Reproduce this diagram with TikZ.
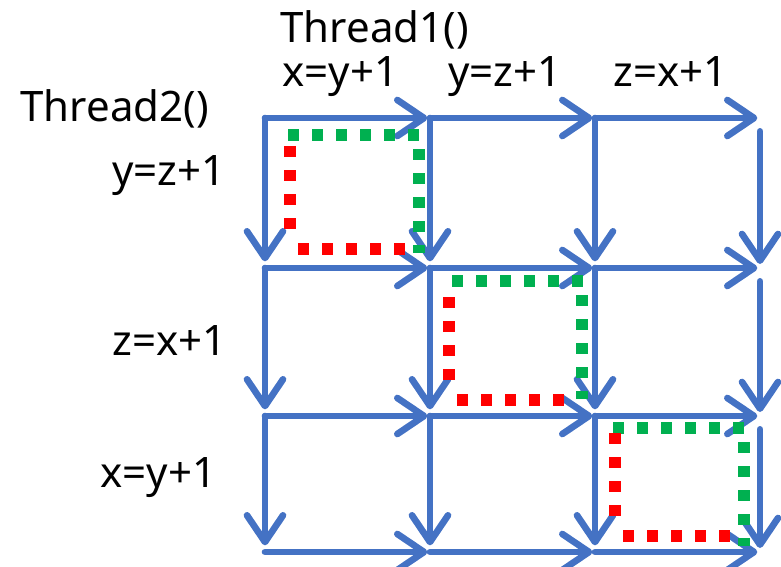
\documentclass[tikz,border=0pt]{standalone}
\usepackage{fontspec}
\setmainfont{Noto Sans}
\usetikzlibrary{arrows.meta}

\definecolor{gridblue}{RGB}{68,114,196}
\definecolor{dotgreen}{RGB}{0,176,80}
\definecolor{dotred}{RGB}{255,0,0}

\tikzset{every picture/.style={line width=0.75pt}}
\tikzset{
  stepline/.style={draw=gridblue,line width=5pt,line cap=round,
    -{Straight Barb[length=20pt,width=27pt,line cap=round,line join=round]}},
  greendots/.style={draw=dotgreen,line width=8.6pt,dash pattern=on 8.6pt off 9.4pt},
  reddots/.style={draw=dotred,line width=8.6pt,dash pattern=on 8.6pt off 9.4pt},
  label/.style={anchor=base west,inner sep=0pt,font=\fontsize{31.5}{38}\selectfont}
}

\begin{document}
\begin{tikzpicture}[x=0.75pt,y=0.75pt,yscale=-1,xscale=1]
\useasboundingbox (0,0) rectangle (781,567);

% Grid corners
\coordinate (g00) at (265,118); \coordinate (g10) at (430,118); \coordinate (g20) at (595,118); \coordinate (g30) at (760,118);
\coordinate (g01) at (265,268); \coordinate (g11) at (430,268); \coordinate (g21) at (595,268); \coordinate (g31) at (760,268);
\coordinate (g02) at (265,416); \coordinate (g12) at (430,416); \coordinate (g22) at (595,416); \coordinate (g32) at (760,416);
\coordinate (g03) at (265,552); \coordinate (g13) at (430,552); \coordinate (g23) at (595,552); \coordinate (g33) at (760,552);

% Thread1 steps (right)
\foreach \r in {0,1,2,3}{
  \draw[stepline,shorten >=2pt] (g0\r) -- (g1\r);
  \draw[stepline,shorten >=2pt] (g1\r) -- (g2\r);
  \draw[stepline,shorten >=2pt] (g2\r) -- (g3\r);
}
% Thread2 steps (down)
\foreach \r/\s in {0/1,1/2,2/3}{
  \draw[stepline,shorten >=5pt] (g0\r) -- (g0\s);
  \draw[stepline,shorten >=5pt] (g1\r) -- (g1\s);
  \draw[stepline,shorten >=5pt] (g2\r) -- (g2\s);
  \draw[stepline,shorten <=10pt,shorten >=3pt] (g3\r) -- (g3\s);
}

% Dotted squares on the diagonal
\draw[greendots] (288,135) -- (422,135);
\draw[greendots] (419,149) -- (419,253);
\draw[reddots] (290,146) -- (290,230);
\draw[reddots] (298,249) -- (406,249);

\draw[greendots] (452,281) -- (585,281);
\draw[greendots] (582,295) -- (582,399);
\draw[reddots] (449,297) -- (449,382);
\draw[reddots] (457,400) -- (565,400);

\draw[greendots] (613,428) -- (745,428);
\draw[greendots] (744,442) -- (744,546);
\draw[reddots] (615,433) -- (615,518);
\draw[reddots] (623,536) -- (731,536);

% Text Nodes
\node[label] (t1) at (280,43) {Thread1()};
\node[label] (t1a) at (282,86) {x=y+1};
\node[label] (t1b) at (448,86) {y=z+1};
\node[label] (t1c) at (613,86) {z=x+1};
\node[label] (t2) at (20,121) {Thread2()};
\node[label] (t2a) at (112,185) {y=z+1};
\node[label] (t2b) at (112,355) {z=x+1};
\node[label] (t2c) at (100,487) {x=y+1};
\end{tikzpicture}
\end{document}
